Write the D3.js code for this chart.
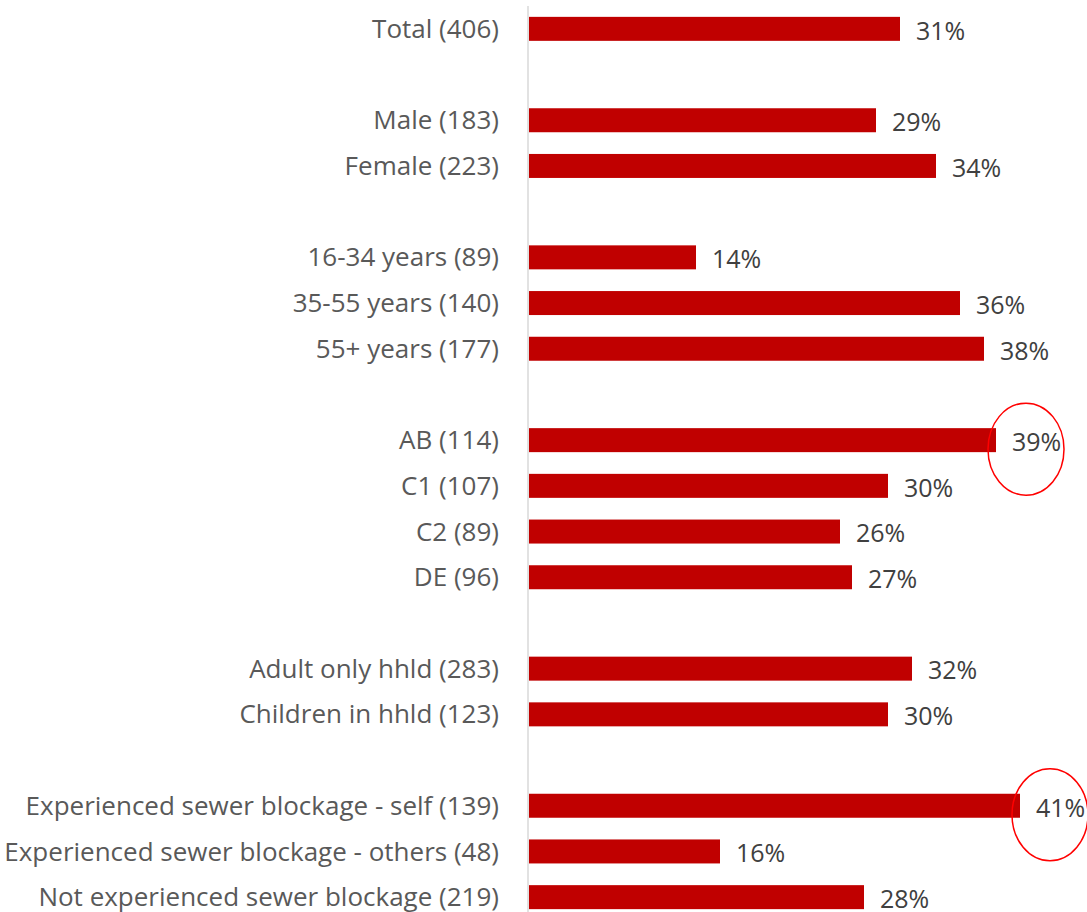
<!DOCTYPE html>
<html lang="en">
<head>
<meta charset="utf-8">
<script src="https://cdnjs.cloudflare.com/ajax/libs/d3/7.8.5/d3.min.js"></script>
<style>
  body { margin: 0; background: #fff; }
  .cat { font-family: "Open Sans", Lato, sans-serif; font-size: 26px; fill: #595959; }
  .val { font-family: "Open Sans", Lato, sans-serif; font-size: 25px; fill: #404040; }
</style>
</head>
<body>
<svg width="1087" height="912"></svg>
<script>
// rows, blanks ("") are gaps between groups
var categories = ["Total (406)", "",
  "Male (183)", "Female (223)", "",
  "16-34 years (89)", "35-55 years (140)", "55+ years (177)", "",
  "AB (114)", "C1 (107)", "C2 (89)", "DE (96)", "",
  "Adult only hhld (283)", "Children in hhld (123)", "",
  "Experienced sewer blockage - self (139)", "Experienced sewer blockage - others (48)", "Not experienced sewer blockage (219)"];
var values = [31, null, 29, 34, null, 14, 36, 38, null, 39, 30, 26, 27, null, 32, 30, null, 41, 16, 28];
var highlighted = ["AB (114)", "Experienced sewer blockage - self (139)"];

var svg = d3.select("svg");
var axisX = 528;

var x = d3.scaleLinear().domain([0, 45]).range([axisX, axisX + 45 * 12]);
var y = d3.scaleBand()
    .domain(d3.range(categories.length))
    .range([6, 920])
    .paddingInner(0.475)
    .paddingOuter(0.2375);

// vertical axis line
svg.append("line")
    .attr("x1", axisX).attr("x2", axisX)
    .attr("y1", 6).attr("y2", 912)
    .attr("stroke", "#d9d9d9").attr("stroke-width", 1.5);

var rows = categories.map(function (c, i) { return {cat: c, v: values[i], i: i}; })
    .filter(function (d) { return d.cat !== ""; });

svg.selectAll(".bar").data(rows).enter().append("rect")
    .attr("class", "bar")
    .attr("x", x(0) + 1)
    .attr("y", function (d) { return y(d.i); })
    .attr("width", function (d) { return x(d.v) - x(0) - 1; })
    .attr("height", y.bandwidth())
    .attr("fill", "#c00000");

svg.selectAll(".cat").data(rows).enter().append("text")
    .attr("class", "cat")
    .attr("x", axisX - 29)
    .attr("y", function (d) { return y(d.i) + y.bandwidth() / 2; })
    .attr("dy", "0.35em")
    .attr("text-anchor", "end")
    .text(function (d) { return d.cat; });

svg.selectAll(".val").data(rows).enter().append("text")
    .attr("class", "val")
    .attr("x", function (d) { return x(d.v) + 16; })
    .attr("y", function (d) { return y(d.i) + y.bandwidth() / 2 + 2; })
    .attr("dy", "0.35em")
    .text(function (d) { return d.v + "%"; });

// red circles drawn around highlighted values
svg.selectAll(".hl").data(rows.filter(function (d) { return highlighted.indexOf(d.cat) >= 0; }))
    .enter().append("ellipse")
    .attr("class", "hl")
    .attr("cx", function (d) { return x(d.v) + 30; })
    .attr("cy", function (d) { return y(d.i) + y.bandwidth() / 2 + 9; })
    .attr("rx", 38)
    .attr("ry", 46)
    .attr("fill", "none")
    .attr("stroke", "#ff0000")
    .attr("stroke-width", 1.5);
</script>
</body>
</html>
